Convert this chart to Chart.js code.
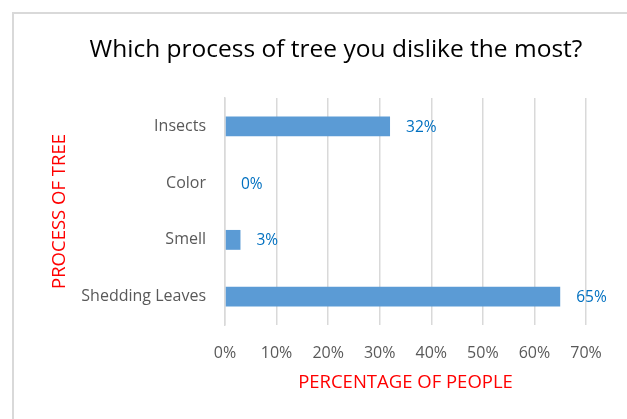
<!DOCTYPE html>
<html>
<head>
<meta charset="utf-8">
<script src="https://cdn.jsdelivr.net/npm/chart.js@4"></script>
<style>
  html, body { margin: 0; padding: 0; background: #ffffff; }
  #wrap { position: relative; width: 627px; height: 419px; overflow: hidden; }
  #frame { position: absolute; left: 12px; top: 12px; width: 700px; height: 500px;
           border-left: 2px solid #d9d9d9; border-top: 2px solid #d9d9d9; box-sizing: border-box; }
  canvas { position: absolute; left: 0; top: 0; }
</style>
</head>
<body>
<div id="wrap">
  <div id="frame"></div>
  <canvas id="chart" width="627" height="419"></canvas>
</div>
<script>
const chartTitle = 'Which process of tree you dislike the most?';
const categories = ['Insects', 'Color', 'Smell', 'Shedding Leaves'];
const percentages = [32, 0, 3, 65];
const xTicks = [0, 10, 20, 30, 40, 50, 60, 70];

const FONT = '"Open Sans", sans-serif';

// Title centred on the framed chart area rather than the canvas
const frameTitle = {
  id: 'frameTitle',
  afterDraw(chart) {
    const ctx = chart.ctx;
    ctx.save();
    ctx.font = '24.5px ' + FONT;
    ctx.fillStyle = '#000000';
    ctx.textAlign = 'center';
    ctx.textBaseline = 'middle';
    ctx.fillText(chartTitle, 336, 50);
    ctx.restore();
  }
};

// Writes the percentage just past the end of each bar
const valueLabels = {
  id: 'valueLabels',
  afterDatasetsDraw(chart) {
    const ctx = chart.ctx;
    const meta = chart.getDatasetMeta(0);
    ctx.save();
    ctx.font = '15.5px ' + FONT;
    ctx.fillStyle = '#0070C0';
    ctx.textAlign = 'left';
    ctx.textBaseline = 'middle';
    meta.data.forEach((bar, i) => {
      ctx.fillText(percentages[i] + '%', bar.x + 16, bar.y + 1);
    });
    ctx.restore();
  }
};

new Chart(document.getElementById('chart'), {
  type: 'bar',
  data: {
    labels: categories,
    datasets: [{
      data: percentages,
      backgroundColor: '#5B9BD5',
      borderWidth: 0,
      barPercentage: 0.35,
      categoryPercentage: 1
    }]
  },
  options: {
    indexAxis: 'y',
    responsive: false,
    animation: false,
    devicePixelRatio: 1,
    layout: { padding: { top: 98, right: 41, bottom: 0, left: 0 } },
    plugins: {
      legend: { display: false },
      tooltip: { enabled: false },
      title: { display: false }
    },
    scales: {
      x: {
        min: 0,
        max: 70,
        afterBuildTicks(scale) { scale.ticks = xTicks.map(v => ({ value: v })); },
        afterFit(scale) { scale.height = 94; },
        grid: { color: '#d9d9d9', lineWidth: 1.5, drawTicks: false },
        border: { display: false },
        ticks: {
          color: '#595959',
          font: { family: FONT, size: 16 },
          padding: 19,
          callback: v => v + '%'
        },
        title: {
          display: true,
          text: 'PERCENTAGE OF PEOPLE',
          color: '#FF0000',
          font: { family: FONT, size: 18.5, lineHeight: 1.2 },
          padding: { top: 0, bottom: 25 }
        }
      },
      y: {
        afterFit(scale) { scale.width = 225; },
        grid: { display: false, drawTicks: false },
        border: { display: true, color: '#d9d9d9', width: 1.5 },
        ticks: {
          color: '#595959',
          font: { family: FONT, size: 16 },
          padding: 19
        },
        title: {
          display: true,
          text: 'PROCESS OF TREE',
          color: '#FF0000',
          font: { family: FONT, size: 18.5, lineHeight: 1.2 },
          padding: { top: 49, bottom: 0 }
        }
      }
    }
  },
  plugins: [valueLabels, frameTitle]
});
</script>
</body>
</html>
